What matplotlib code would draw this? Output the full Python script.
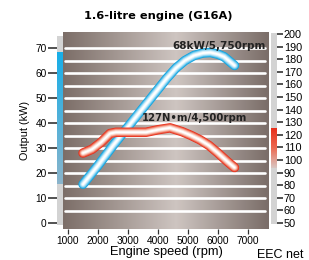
import numpy as np
import matplotlib
matplotlib.use("Agg")
from matplotlib import pyplot as plt
from matplotlib.colors import LinearSegmentedColormap

# power curve (kW) and torque curve (N·m)
power_rpm = [1500, 2000, 2500, 3000, 3500, 4000, 4300, 4600, 4900, 5200, 5500, 5750, 6000, 6200, 6400, 6550]
power_kw = [15.5, 23, 31, 38.5, 46, 53.5, 58, 62, 65, 67, 68, 68.2, 67.5, 66.5, 64.5, 63]

torque_rpm = [1500, 1800, 2100, 2400, 2600, 3000, 3600, 4000, 4400, 4800, 5100, 5400, 5700, 6000, 6300, 6550]
torque_nm = [105.5, 108.5, 114, 121, 122, 122, 122, 124, 125.5, 122.5, 119.5, 116, 111.5, 105.5, 99, 94]

grid_kw = [5, 10, 15, 20, 25, 30, 35, 40, 45, 50, 55, 60, 65, 70]
rpm_ticks = [1000, 2000, 3000, 4000, 5000, 6000, 7000]
kw_ticks = [0, 10, 20, 30, 40, 50, 60, 70]
nm_ticks = list(range(50, 201, 10))

title = "1.6-litre engine (G16A)"
power_label = "68kW/5,750rpm"
torque_label = "127N\u2022m/4,500rpm"

W, H = 309, 260
fig = plt.figure(figsize=(W / 100, H / 100), dpi=100)
plt.rcParams['font.family'] = ['Liberation Sans', 'DejaVu Sans']

def box(x0, y0, x1, y1):
    # pixel box -> figure fraction
    return [x0 / W, 1 - y1 / H, (x1 - x0) / W, (y1 - y0) / H]

kw_lim = (-2.4, 76.4)
nm_lim = (45.2, 201.6)
rpm_lim = (833, 7700)

ax = fig.add_axes(box(63, 32, 269, 229))
ax.set_xlim(*rpm_lim)
ax.set_ylim(*kw_lim)

# brownish background, lighter in the middle
bg = LinearSegmentedColormap.from_list("bg", [(0, "#7c6e68"), (0.55, "#cec5c1"), (1, "#7a6d68")])
ax.imshow(np.linspace(0, 1, 256)[None, :], cmap=bg, aspect="auto",
          extent=[*rpm_lim, *kw_lim], zorder=0)

for k in grid_kw:
    ax.plot([900, 7550], [k, k], color="white", lw=1.9, solid_capstyle="round", zorder=1)

def tube(a, x, y, cols):
    widths = [6.8, 5.6, 4.3, 2.9, 1.4]
    for c, w in zip(cols, widths):
        a.plot(x, y, color=c, lw=w, solid_capstyle="round", solid_joinstyle="round", zorder=3)

tube(ax, power_rpm, power_kw, ["#12a3df", "#52c0ec", "#9edaf4", "#dcf2fb", "#ffffff"])

ax2 = ax.twinx()
ax2.set_ylim(*nm_lim)
ax2.axis("off")
tube(ax2, torque_rpm, torque_nm, ["#e8301d", "#ee6a52", "#f5ab9a", "#fbe0d8", "#ffffff"])

ax.text(6030, 71, power_label, fontsize=7.5, fontweight="bold", family="DejaVu Sans",
        ha="center", va="center", color="#222222", zorder=4)
ax.text(5200, 42, torque_label, fontsize=7.3, fontweight="bold", family="DejaVu Sans",
        ha="center", va="center", color="#222222", zorder=4)

for s in ax.spines.values():
    s.set_visible(False)
ax.set_yticks([])
ax.set_xticks(rpm_ticks)
ax.tick_params(axis="x", length=3.5, width=0.9, pad=1.5, labelsize=7.3, color="#333333")
ax.set_xlabel("Engine speed (rpm)", fontsize=9.3, labelpad=0)

# left colour bar (output)
axl = fig.add_axes(box(57, 32, 63, 229))
axl.set_xlim(0, 1)
axl.set_ylim(*kw_lim)
axl.fill_between([0, 1], -0.8, 75, color="#d3d3d3", lw=0, zorder=1)
blue = LinearSegmentedColormap.from_list("b", ["#8ab4cb", "#17aee8"])
axl.imshow(np.linspace(0, 1, 128)[:, None], cmap=blue, origin="lower", aspect="auto",
           extent=[0, 1, min(power_kw), max(power_kw)], zorder=2)
for s in axl.spines.values():
    s.set_visible(False)
axl.set_xticks([])
axl.set_yticks(kw_ticks)
axl.tick_params(axis="y", length=6.5, width=1.1, pad=1, labelsize=7.3, color="#222222")
axl.set_ylabel("Output (kW)", fontsize=7.8, labelpad=4)

# right colour bar (torque)
axr = fig.add_axes(box(271, 32, 277, 229))
axr.set_xlim(0, 1)
axr.set_ylim(*nm_lim)
axr.fill_between([0, 1], 49, 200.5, color="#d3d3d3", lw=0, zorder=1)
red = LinearSegmentedColormap.from_list("r", ["#d8c6c2", "#ec6a52", "#e8301c"])
axr.imshow(np.linspace(0, 1, 128)[:, None], cmap=red, origin="lower", aspect="auto",
           extent=[0, 1, min(torque_nm), max(torque_nm)], zorder=2)
for s in axr.spines.values():
    s.set_visible(False)
axr.set_xticks([])
axr.yaxis.tick_right()
axr.set_yticks(nm_ticks)
axr.tick_params(axis="y", length=4.5, width=1.1, pad=0.5, labelsize=7.8, color="#222222")

fig.text(158 / W, 1 - 16 / H, title, fontsize=8.2, fontweight="bold", family="DejaVu Sans",
         ha="center", va="center")
fig.text(257 / W, 0.006, "EEC net", fontsize=9, ha="left", va="baseline")

fig.savefig("out.png", dpi=100)
